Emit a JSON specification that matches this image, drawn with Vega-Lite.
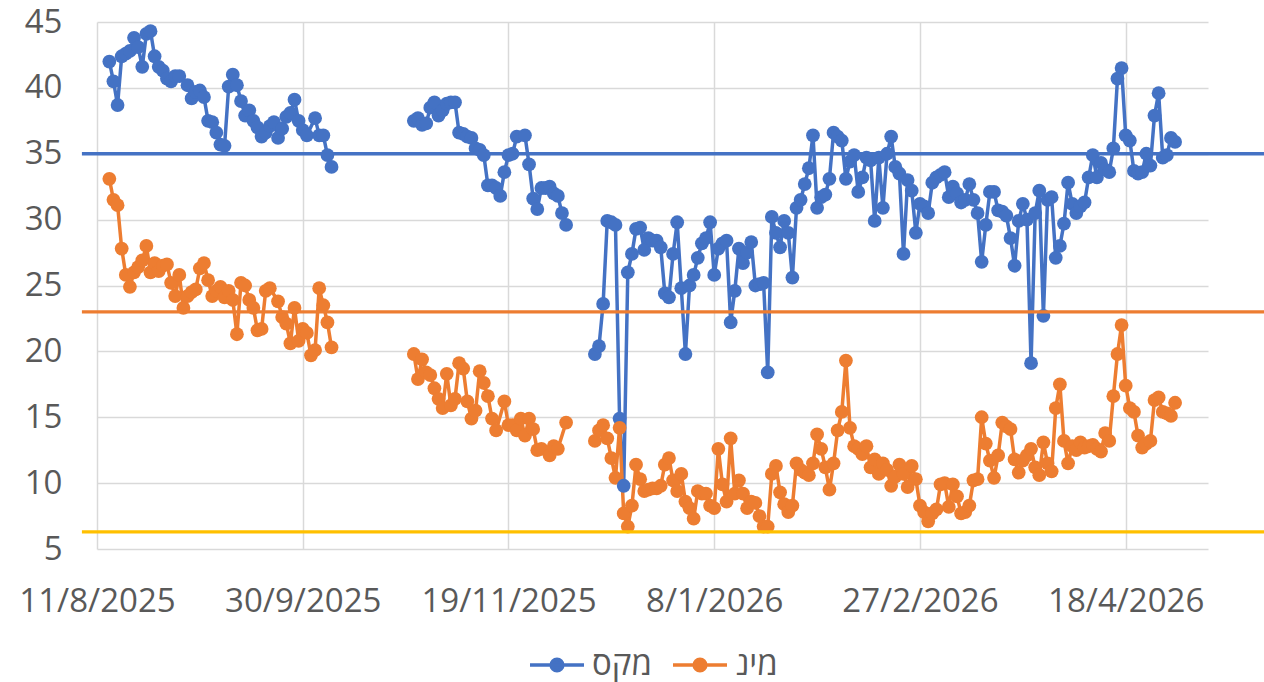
{
"$schema":"https://vega.github.io/schema/vega-lite/v6.json",
"width":1111,"height":527,
"autosize":{"type":"none"},
"padding":{"left":97,"top":22,"right":56,"bottom":133},
"background":"white",
"config":{
 "view":{"stroke":null},
 "font":"Open Sans",
 "axis":{"labelFont":"Open Sans","labelFontSize":33,"labelColor":"#595959","grid":true,"gridColor":"#D9D9D9","gridWidth":1.5,"domain":false,"ticks":false,"tickSize":0,"title":null,"labelFlush":false,"labelOverlap":false},
 "legend":{"labelFont":"Open Sans","labelFontSize":33,"labelColor":"#595959","labelLimit":400}
},
"layer":[
{
 "data":{"values":[
{"date":"2025-08-14","seg":1,"מקס":42.0,"מינ":33.1},
{"date":"2025-08-15","seg":1,"מקס":40.5,"מינ":31.5},
{"date":"2025-08-16","seg":1,"מקס":38.7,"מינ":31.1},
{"date":"2025-08-17","seg":1,"מקס":42.4,"מינ":27.8},
{"date":"2025-08-18","seg":1,"מקס":42.6,"מינ":25.8},
{"date":"2025-08-19","seg":1,"מקס":42.8,"מינ":24.9},
{"date":"2025-08-20","seg":1,"מקס":43.8,"מינ":26.0},
{"date":"2025-08-21","seg":1,"מקס":43.1,"מינ":26.4},
{"date":"2025-08-22","seg":1,"מקס":41.6,"מינ":26.9},
{"date":"2025-08-23","seg":1,"מקס":44.1,"מינ":28.0},
{"date":"2025-08-24","seg":1,"מקס":44.3,"מינ":26.0},
{"date":"2025-08-25","seg":1,"מקס":42.4,"מינ":26.7},
{"date":"2025-08-26","seg":1,"מקס":41.6,"מינ":26.1},
{"date":"2025-08-27","seg":1,"מקס":41.3,"מינ":26.5},
{"date":"2025-08-28","seg":1,"מקס":40.7,"מינ":26.6},
{"date":"2025-08-29","seg":1,"מקס":40.5,"מינ":25.2},
{"date":"2025-08-30","seg":1,"מקס":40.9,"מינ":24.2},
{"date":"2025-08-31","seg":1,"מקס":40.9,"מינ":25.8},
{"date":"2025-09-01","seg":1,"מקס":null,"מינ":23.3},
{"date":"2025-09-02","seg":1,"מקס":40.2,"מינ":24.2},
{"date":"2025-09-03","seg":1,"מקס":39.2,"מינ":24.5},
{"date":"2025-09-04","seg":1,"מקס":39.7,"מינ":24.7},
{"date":"2025-09-05","seg":1,"מקס":39.8,"מינ":26.3},
{"date":"2025-09-06","seg":1,"מקס":39.3,"מינ":26.7},
{"date":"2025-09-07","seg":1,"מקס":37.5,"מינ":25.4},
{"date":"2025-09-08","seg":1,"מקס":37.4,"מינ":24.2},
{"date":"2025-09-09","seg":1,"מקס":36.6,"מינ":24.6},
{"date":"2025-09-10","seg":1,"מקס":35.7,"מינ":24.9},
{"date":"2025-09-11","seg":1,"מקס":35.6,"מינ":24.1},
{"date":"2025-09-12","seg":1,"מקס":40.1,"מינ":24.6},
{"date":"2025-09-13","seg":1,"מקס":41.0,"מינ":23.9},
{"date":"2025-09-14","seg":1,"מקס":40.2,"מינ":21.3},
{"date":"2025-09-15","seg":1,"מקס":39.0,"מינ":25.2},
{"date":"2025-09-16","seg":1,"מקס":37.9,"מינ":25.0},
{"date":"2025-09-17","seg":1,"מקס":38.3,"מינ":23.9},
{"date":"2025-09-18","seg":1,"מקס":37.5,"מינ":23.3},
{"date":"2025-09-19","seg":1,"מקס":37.0,"מינ":21.6},
{"date":"2025-09-20","seg":1,"מקס":36.3,"מינ":21.7},
{"date":"2025-09-21","seg":1,"מקס":36.6,"מינ":24.6},
{"date":"2025-09-22","seg":1,"מקס":37.1,"מינ":24.8},
{"date":"2025-09-23","seg":1,"מקס":37.4,"מינ":null},
{"date":"2025-09-24","seg":1,"מקס":36.2,"מינ":23.8},
{"date":"2025-09-25","seg":1,"מקס":36.9,"מינ":22.6},
{"date":"2025-09-26","seg":1,"מקס":37.8,"מינ":22.1},
{"date":"2025-09-27","seg":1,"מקס":38.1,"מינ":20.6},
{"date":"2025-09-28","seg":1,"מקס":39.1,"מינ":23.3},
{"date":"2025-09-29","seg":1,"מקס":37.5,"מינ":20.8},
{"date":"2025-09-30","seg":1,"מקס":36.8,"מינ":21.7},
{"date":"2025-10-01","seg":1,"מקס":36.4,"מינ":21.4},
{"date":"2025-10-02","seg":1,"מקס":null,"מינ":19.7},
{"date":"2025-10-03","seg":1,"מקס":37.7,"מינ":20.1},
{"date":"2025-10-04","seg":1,"מקס":36.4,"מינ":24.8},
{"date":"2025-10-05","seg":1,"מקס":36.4,"מינ":23.5},
{"date":"2025-10-06","seg":1,"מקס":34.9,"מינ":22.2},
{"date":"2025-10-07","seg":1,"מקס":34.0,"מינ":20.3},
{"date":"2025-10-27","seg":2,"מקס":37.5,"מינ":19.8},
{"date":"2025-10-28","seg":2,"מקס":37.7,"מינ":17.9},
{"date":"2025-10-29","seg":2,"מקס":37.2,"מינ":19.4},
{"date":"2025-10-30","seg":2,"מקס":37.3,"מינ":18.4},
{"date":"2025-10-31","seg":2,"מקס":38.5,"מינ":18.2},
{"date":"2025-11-01","seg":2,"מקס":38.9,"מינ":17.2},
{"date":"2025-11-02","seg":2,"מקס":37.9,"מינ":16.4},
{"date":"2025-11-03","seg":2,"מקס":38.3,"מינ":15.7},
{"date":"2025-11-04","seg":2,"מקס":38.8,"מינ":18.3},
{"date":"2025-11-05","seg":2,"מקס":38.9,"מינ":15.9},
{"date":"2025-11-06","seg":2,"מקס":38.9,"מינ":16.4},
{"date":"2025-11-07","seg":2,"מקס":36.6,"מינ":19.1},
{"date":"2025-11-08","seg":2,"מקס":36.5,"מינ":18.7},
{"date":"2025-11-09","seg":2,"מקס":36.3,"מינ":16.2},
{"date":"2025-11-10","seg":2,"מקס":36.2,"מינ":14.9},
{"date":"2025-11-11","seg":2,"מקס":35.4,"מינ":15.5},
{"date":"2025-11-12","seg":2,"מקס":35.3,"מינ":18.5},
{"date":"2025-11-13","seg":2,"מקס":34.9,"מינ":17.6},
{"date":"2025-11-14","seg":2,"מקס":32.6,"מינ":16.6},
{"date":"2025-11-15","seg":2,"מקס":32.6,"מינ":14.9},
{"date":"2025-11-16","seg":2,"מקס":32.4,"מינ":14.0},
{"date":"2025-11-17","seg":2,"מקס":31.8,"מינ":null},
{"date":"2025-11-18","seg":2,"מקס":33.6,"מינ":16.2},
{"date":"2025-11-19","seg":2,"מקס":34.9,"מינ":14.4},
{"date":"2025-11-20","seg":2,"מקס":35.0,"מינ":14.4},
{"date":"2025-11-21","seg":2,"מקס":36.3,"מינ":14.0},
{"date":"2025-11-22","seg":2,"מקס":null,"מינ":14.9},
{"date":"2025-11-23","seg":2,"מקס":36.4,"מינ":13.6},
{"date":"2025-11-24","seg":2,"מקס":34.2,"מינ":14.9},
{"date":"2025-11-25","seg":2,"מקס":31.6,"מינ":14.1},
{"date":"2025-11-26","seg":2,"מקס":30.8,"מינ":12.5},
{"date":"2025-11-27","seg":2,"מקס":32.4,"מינ":12.6},
{"date":"2025-11-28","seg":2,"מקס":32.4,"מינ":null},
{"date":"2025-11-29","seg":2,"מקס":32.5,"מינ":12.1},
{"date":"2025-11-30","seg":2,"מקס":32.0,"מינ":12.8},
{"date":"2025-12-01","seg":2,"מקס":31.8,"מינ":12.6},
{"date":"2025-12-02","seg":2,"מקס":30.5,"מינ":null},
{"date":"2025-12-03","seg":2,"מקס":29.6,"מינ":14.6},
{"date":"2025-12-10","seg":3,"מקס":19.8,"מינ":13.2},
{"date":"2025-12-11","seg":3,"מקס":20.4,"מינ":14.0},
{"date":"2025-12-12","seg":3,"מקס":23.6,"מינ":14.4},
{"date":"2025-12-13","seg":3,"מקס":29.9,"מינ":13.4},
{"date":"2025-12-14","seg":3,"מקס":29.8,"מינ":11.9},
{"date":"2025-12-15","seg":3,"מקס":29.6,"מינ":10.4},
{"date":"2025-12-16","seg":3,"מקס":14.9,"מינ":14.2},
{"date":"2025-12-17","seg":3,"מקס":9.8,"מינ":7.7},
{"date":"2025-12-18","seg":3,"מקס":26.0,"מינ":6.7},
{"date":"2025-12-19","seg":3,"מקס":27.4,"מינ":8.3},
{"date":"2025-12-20","seg":3,"מקס":29.3,"מינ":11.4},
{"date":"2025-12-21","seg":3,"מקס":29.4,"מינ":10.3},
{"date":"2025-12-22","seg":3,"מקס":27.7,"מינ":9.4},
{"date":"2025-12-23","seg":3,"מקס":28.6,"מינ":9.5},
{"date":"2025-12-24","seg":3,"מקס":28.4,"מינ":9.6},
{"date":"2025-12-25","seg":3,"מקס":28.4,"מינ":9.6},
{"date":"2025-12-26","seg":3,"מקס":27.9,"מינ":9.8},
{"date":"2025-12-27","seg":3,"מקס":24.4,"מינ":11.4},
{"date":"2025-12-28","seg":3,"מקס":24.1,"מינ":11.9},
{"date":"2025-12-29","seg":3,"מקס":27.4,"מינ":10.2},
{"date":"2025-12-30","seg":3,"מקס":29.8,"מינ":9.4},
{"date":"2025-12-31","seg":3,"מקס":24.8,"מינ":10.7},
{"date":"2026-01-01","seg":3,"מקס":19.8,"מינ":8.6},
{"date":"2026-01-02","seg":3,"מקס":25.0,"מינ":8.1},
{"date":"2026-01-03","seg":3,"מקס":25.8,"מינ":7.3},
{"date":"2026-01-04","seg":3,"מקס":27.1,"מינ":9.4},
{"date":"2026-01-05","seg":3,"מקס":28.2,"מינ":9.2},
{"date":"2026-01-06","seg":3,"מקס":28.6,"מינ":9.2},
{"date":"2026-01-07","seg":3,"מקס":29.8,"מינ":8.3},
{"date":"2026-01-08","seg":3,"מקס":25.8,"מינ":8.1},
{"date":"2026-01-09","seg":3,"מקס":27.8,"מינ":12.6},
{"date":"2026-01-10","seg":3,"מקס":28.2,"מינ":9.9},
{"date":"2026-01-11","seg":3,"מקס":28.4,"מינ":8.6},
{"date":"2026-01-12","seg":3,"מקס":22.2,"מינ":13.4},
{"date":"2026-01-13","seg":3,"מקס":24.6,"מינ":9.2},
{"date":"2026-01-14","seg":3,"מקס":27.8,"מינ":10.2},
{"date":"2026-01-15","seg":3,"מקס":26.7,"מינ":9.2},
{"date":"2026-01-16","seg":3,"מקס":27.5,"מינ":8.1},
{"date":"2026-01-17","seg":3,"מקס":28.3,"מינ":8.6},
{"date":"2026-01-18","seg":3,"מקס":25.0,"מינ":8.5},
{"date":"2026-01-19","seg":3,"מקס":25.1,"מינ":7.5},
{"date":"2026-01-20","seg":3,"מקס":25.2,"מינ":6.7},
{"date":"2026-01-21","seg":3,"מקס":18.4,"מינ":6.7},
{"date":"2026-01-22","seg":3,"מקס":30.2,"מינ":10.7},
{"date":"2026-01-23","seg":3,"מקס":29.0,"מינ":11.3},
{"date":"2026-01-24","seg":3,"מקס":27.9,"מינ":9.3},
{"date":"2026-01-25","seg":3,"מקס":29.9,"מינ":8.4},
{"date":"2026-01-26","seg":3,"מקס":29.0,"מינ":7.8},
{"date":"2026-01-27","seg":3,"מקס":25.6,"מינ":8.3},
{"date":"2026-01-28","seg":3,"מקס":30.9,"מינ":11.5},
{"date":"2026-01-29","seg":3,"מקס":31.5,"מינ":11.0},
{"date":"2026-01-30","seg":3,"מקס":32.7,"מינ":10.8},
{"date":"2026-01-31","seg":3,"מקס":33.9,"מינ":10.6},
{"date":"2026-02-01","seg":3,"מקס":36.4,"מינ":11.5},
{"date":"2026-02-02","seg":3,"מקס":30.9,"מינ":13.7},
{"date":"2026-02-03","seg":3,"מקס":31.7,"מינ":12.6},
{"date":"2026-02-04","seg":3,"מקס":31.9,"מינ":11.2},
{"date":"2026-02-05","seg":3,"מקס":33.1,"מינ":9.5},
{"date":"2026-02-06","seg":3,"מקס":36.6,"מינ":11.5},
{"date":"2026-02-07","seg":3,"מקס":36.3,"מינ":14.0},
{"date":"2026-02-08","seg":3,"מקס":36.0,"מינ":15.4},
{"date":"2026-02-09","seg":3,"מקס":33.1,"מינ":19.3},
{"date":"2026-02-10","seg":3,"מקס":34.4,"מינ":14.2},
{"date":"2026-02-11","seg":3,"מקס":34.9,"מינ":12.8},
{"date":"2026-02-12","seg":3,"מקס":32.1,"מינ":12.6},
{"date":"2026-02-13","seg":3,"מקס":33.2,"מינ":12.2},
{"date":"2026-02-14","seg":3,"מקס":34.7,"מינ":12.8},
{"date":"2026-02-15","seg":3,"מקס":34.5,"מינ":11.2},
{"date":"2026-02-16","seg":3,"מקס":29.9,"מינ":11.8},
{"date":"2026-02-17","seg":3,"מקס":34.7,"מינ":10.7},
{"date":"2026-02-18","seg":3,"מקס":30.9,"מינ":11.5},
{"date":"2026-02-19","seg":3,"מקס":35.0,"מינ":11.0},
{"date":"2026-02-20","seg":3,"מקס":36.3,"מינ":9.8},
{"date":"2026-02-21","seg":3,"מקס":34.0,"מינ":10.5},
{"date":"2026-02-22","seg":3,"מקס":33.5,"מינ":11.4},
{"date":"2026-02-23","seg":3,"מקס":27.4,"מינ":10.7},
{"date":"2026-02-24","seg":3,"מקס":33.0,"מינ":9.7},
{"date":"2026-02-25","seg":3,"מקס":32.2,"מינ":11.3},
{"date":"2026-02-26","seg":3,"מקס":29.0,"מינ":10.3},
{"date":"2026-02-27","seg":3,"מקס":31.2,"מינ":8.3},
{"date":"2026-02-28","seg":3,"מקס":31.0,"מינ":7.8},
{"date":"2026-03-01","seg":3,"מקס":30.5,"מינ":7.1},
{"date":"2026-03-02","seg":3,"מקס":32.8,"מינ":7.7},
{"date":"2026-03-03","seg":3,"מקס":33.2,"מינ":8.0},
{"date":"2026-03-04","seg":3,"מקס":33.4,"מינ":9.9},
{"date":"2026-03-05","seg":3,"מקס":33.6,"מינ":10.0},
{"date":"2026-03-06","seg":3,"מקס":31.7,"מינ":8.2},
{"date":"2026-03-07","seg":3,"מקס":32.5,"מינ":9.9},
{"date":"2026-03-08","seg":3,"מקס":32.0,"מינ":9.0},
{"date":"2026-03-09","seg":3,"מקס":31.3,"מינ":7.7},
{"date":"2026-03-10","seg":3,"מקס":31.5,"מינ":7.8},
{"date":"2026-03-11","seg":3,"מקס":32.7,"מינ":8.3},
{"date":"2026-03-12","seg":3,"מקס":31.5,"מינ":10.2},
{"date":"2026-03-13","seg":3,"מקס":30.5,"מינ":10.3},
{"date":"2026-03-14","seg":3,"מקס":26.8,"מינ":15.0},
{"date":"2026-03-15","seg":3,"מקס":29.6,"מינ":13.0},
{"date":"2026-03-16","seg":3,"מקס":32.1,"מינ":11.7},
{"date":"2026-03-17","seg":3,"מקס":32.1,"מינ":10.4},
{"date":"2026-03-18","seg":3,"מקס":30.7,"מינ":12.1},
{"date":"2026-03-19","seg":3,"מקס":30.6,"מינ":14.6},
{"date":"2026-03-20","seg":3,"מקס":30.3,"מינ":14.3},
{"date":"2026-03-21","seg":3,"מקס":28.6,"מינ":14.1},
{"date":"2026-03-22","seg":3,"מקס":26.5,"מינ":11.8},
{"date":"2026-03-23","seg":3,"מקס":29.9,"מינ":10.8},
{"date":"2026-03-24","seg":3,"מקס":31.2,"מינ":11.7},
{"date":"2026-03-25","seg":3,"מקס":30.0,"מינ":12.1},
{"date":"2026-03-26","seg":3,"מקס":19.1,"מינ":12.6},
{"date":"2026-03-27","seg":3,"מקס":30.5,"מינ":11.2},
{"date":"2026-03-28","seg":3,"מקס":32.2,"מינ":10.6},
{"date":"2026-03-29","seg":3,"מקס":22.7,"מינ":13.1},
{"date":"2026-03-30","seg":3,"מקס":31.5,"מינ":11.5},
{"date":"2026-03-31","seg":3,"מקס":31.7,"מינ":10.9},
{"date":"2026-04-01","seg":3,"מקס":27.1,"מינ":15.7},
{"date":"2026-04-02","seg":3,"מקס":28.0,"מינ":17.5},
{"date":"2026-04-03","seg":3,"מקס":29.7,"מינ":13.2},
{"date":"2026-04-04","seg":3,"מקס":32.8,"מינ":11.5},
{"date":"2026-04-05","seg":3,"מקס":31.2,"מינ":12.8},
{"date":"2026-04-06","seg":3,"מקס":30.5,"מינ":12.5},
{"date":"2026-04-07","seg":3,"מקס":31.0,"מינ":13.1},
{"date":"2026-04-08","seg":3,"מקס":31.3,"מינ":12.7},
{"date":"2026-04-09","seg":3,"מקס":33.2,"מינ":12.8},
{"date":"2026-04-10","seg":3,"מקס":34.9,"מינ":12.9},
{"date":"2026-04-11","seg":3,"מקס":33.2,"מינ":12.6},
{"date":"2026-04-12","seg":3,"מקס":34.3,"מינ":12.4},
{"date":"2026-04-13","seg":3,"מקס":33.8,"מינ":13.8},
{"date":"2026-04-14","seg":3,"מקס":33.6,"מינ":13.2},
{"date":"2026-04-15","seg":3,"מקס":35.4,"מינ":16.6},
{"date":"2026-04-16","seg":3,"מקס":40.7,"מינ":19.8},
{"date":"2026-04-17","seg":3,"מקס":41.5,"מינ":22.0},
{"date":"2026-04-18","seg":3,"מקס":36.4,"מינ":17.4},
{"date":"2026-04-19","seg":3,"מקס":36.0,"מינ":15.7},
{"date":"2026-04-20","seg":3,"מקס":33.7,"מינ":15.4},
{"date":"2026-04-21","seg":3,"מקס":33.5,"מינ":13.6},
{"date":"2026-04-22","seg":3,"מקס":33.6,"מינ":12.7},
{"date":"2026-04-23","seg":3,"מקס":35.0,"מינ":13.0},
{"date":"2026-04-24","seg":3,"מקס":34.1,"מינ":13.2},
{"date":"2026-04-25","seg":3,"מקס":37.9,"מינ":16.3},
{"date":"2026-04-26","seg":3,"מקס":39.6,"מינ":16.5},
{"date":"2026-04-27","seg":3,"מקס":34.7,"מינ":15.4},
{"date":"2026-04-28","seg":3,"מקס":34.9,"מינ":15.3},
{"date":"2026-04-29","seg":3,"מקס":36.2,"מינ":15.1},
{"date":"2026-04-30","seg":3,"מקס":35.9,"מינ":16.1}
 ]},
 "transform":[
  {"fold":["מקס","מינ"],"as":["series","value"]},
  {"filter":"isValid(datum.value)"}
 ],
 "encoding":{
  "x":{"field":"date","type":"temporal",
   "scale":{"type":"utc","domain":[{"year":2025,"month":8,"date":11,"utc":true},{"year":2026,"month":5,"date":8,"utc":true}]},
   "axis":{"values":[{"year":2025,"month":8,"date":11,"utc":true},{"year":2025,"month":9,"date":30,"utc":true},{"year":2025,"month":11,"date":19,"utc":true},{"year":2026,"month":1,"date":8,"utc":true},{"year":2026,"month":2,"date":27,"utc":true},{"year":2026,"month":4,"date":18,"utc":true}],
    "format":"%-d/%-m/%Y","labelPadding":36}},
  "y":{"field":"value","type":"quantitative",
   "scale":{"domain":[5,45],"nice":false,"zero":false},
   "axis":{"values":[5,10,15,20,25,30,35,40,45],"labelPadding":35}},
  "color":{"field":"series","type":"nominal",
   "scale":{"domain":["מקס","מינ"],"range":["#4472C4","#ED7D31"]},
   "legend":{"orient":"none","legendX":431,"legendY":614,"direction":"horizontal","title":null,
    "symbolType":"M-1,0H1M-0.22,0A0.22,0.22,0,1,1,0.22,0A0.22,0.22,0,1,1,-0.22,0Z",
    "symbolSize":2916,"symbolStrokeWidth":3.3,"labelOffset":6,"columnPadding":14,
    "encode":{"symbols":{"update":{"fill":{"scale":"color","field":"value"},"stroke":{"scale":"color","field":"value"},"opacity":{"value":1}}}}}},
  "detail":{"field":"seg","type":"nominal"}
 },
 "layer":[
  {"mark":{"type":"line","strokeWidth":3.5}},
  {"mark":{"type":"point","filled":true,"size":190,"opacity":1}}
 ]
},
{"data":{"values":[{}]},"mark":{"type":"rule","color":"#4472C4","strokeWidth":3.3},
 "encoding":{"y":{"datum":35,"type":"quantitative"},
  "x":{"datum":{"year":2025,"month":8,"date":7,"hours":8,"utc":true},"type":"temporal"},
  "x2":{"datum":{"year":2026,"month":5,"date":21,"hours":16,"utc":true}}}},
{"data":{"values":[{}]},"mark":{"type":"rule","color":"#ED7D31","strokeWidth":3.3},
 "encoding":{"y":{"datum":23,"type":"quantitative"},
  "x":{"datum":{"year":2025,"month":8,"date":7,"hours":8,"utc":true},"type":"temporal"},
  "x2":{"datum":{"year":2026,"month":5,"date":21,"hours":16,"utc":true}}}},
{"data":{"values":[{}]},"mark":{"type":"rule","color":"#FFC000","strokeWidth":3.3},
 "encoding":{"y":{"datum":6.3,"type":"quantitative"},
  "x":{"datum":{"year":2025,"month":8,"date":7,"hours":8,"utc":true},"type":"temporal"},
  "x2":{"datum":{"year":2026,"month":5,"date":21,"hours":16,"utc":true}}}}
]
}
